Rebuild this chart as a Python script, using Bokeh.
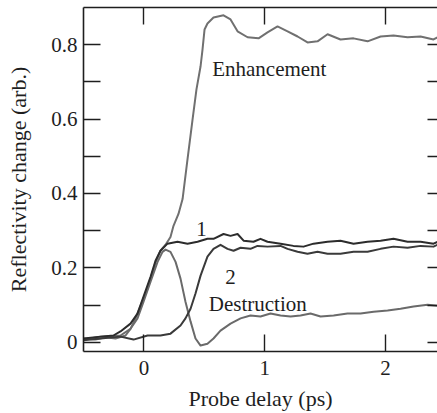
from bokeh.plotting import figure
from bokeh.models import LinearAxis, FixedTicker, Range1d, Label, NumeralTickFormatter
from bokeh.embed import file_html
from bokeh.resources import INLINE

# ---- data ----
enh_x = [-0.50, -0.40, -0.318, -0.235, -0.152, -0.111, -0.070, -0.028, 0.013, 0.055,
         0.096, 0.137, 0.179, 0.220, 0.245, 0.286, 0.320, 0.361, 0.402, 0.435,
         0.469, 0.485, 0.502, 0.526, 0.576, 0.659, 0.717, 0.775, 0.858, 0.949,
         1.023, 1.106, 1.189, 1.272, 1.354, 1.437, 1.520, 1.627, 1.735, 1.851,
         1.959, 2.066, 2.182, 2.290, 2.397, 2.430]
enh_y = [0.010, 0.007, 0.013, 0.010, 0.018, 0.036, 0.064, 0.098, 0.131, 0.171,
         0.214, 0.246, 0.262, 0.283, 0.313, 0.345, 0.385, 0.492, 0.597, 0.680,
         0.742, 0.787, 0.841, 0.857, 0.873, 0.879, 0.868, 0.836, 0.820, 0.817,
         0.833, 0.849, 0.836, 0.822, 0.806, 0.809, 0.828, 0.814, 0.817, 0.809,
         0.822, 0.825, 0.820, 0.822, 0.814, 0.820]

c1_x = [-0.50, -0.359, -0.252, -0.194, -0.111, -0.053, -0.003, 0.055, 0.096, 0.137,
        0.195, 0.278, 0.361, 0.444, 0.526, 0.576, 0.659, 0.717, 0.775, 0.825,
        0.907, 0.965, 1.023, 1.131, 1.238, 1.321, 1.404, 1.520, 1.627, 1.735,
        1.851, 1.959, 2.066, 2.182, 2.290, 2.397, 2.430]
c1_y = [0.010, 0.015, 0.018, 0.029, 0.050, 0.077, 0.123, 0.176, 0.219, 0.246,
        0.265, 0.270, 0.265, 0.270, 0.278, 0.278, 0.291, 0.286, 0.291, 0.273,
        0.270, 0.278, 0.270, 0.265, 0.259, 0.257, 0.265, 0.270, 0.273, 0.265,
        0.270, 0.273, 0.278, 0.270, 0.270, 0.265, 0.270]

c2_x = [-0.50, -0.359, -0.194, -0.086, 0.030, 0.137, 0.220, 0.303, 0.344, 0.386,
        0.427, 0.469, 0.526, 0.576, 0.634, 0.692, 0.742, 0.800, 0.882, 0.940,
        1.023, 1.131, 1.189, 1.272, 1.354, 1.437, 1.520, 1.627, 1.735, 1.851,
        1.959, 2.066, 2.182, 2.290, 2.397, 2.430]
c2_y = [0.005, 0.010, 0.015, 0.007, 0.018, 0.018, 0.023, 0.045, 0.064, 0.090,
        0.131, 0.179, 0.230, 0.251, 0.262, 0.251, 0.246, 0.254, 0.251, 0.259,
        0.257, 0.259, 0.251, 0.243, 0.238, 0.243, 0.238, 0.238, 0.243, 0.243,
        0.251, 0.257, 0.254, 0.259, 0.257, 0.262]

des_x = [-0.50, -0.359, -0.194, -0.111, -0.053, -0.003, 0.055, 0.113, 0.154, 0.179,
         0.220, 0.262, 0.303, 0.344, 0.386, 0.427, 0.469, 0.526, 0.576, 0.634,
         0.717, 0.800, 0.882, 0.965, 1.048, 1.131, 1.214, 1.296, 1.379, 1.462,
         1.570, 1.685, 1.793, 1.901, 2.017, 2.124, 2.232, 2.348, 2.430]
des_y = [0.007, 0.015, 0.018, 0.036, 0.064, 0.109, 0.163, 0.216, 0.243, 0.249,
         0.243, 0.216, 0.171, 0.109, 0.056, 0.010, -0.009, -0.004, 0.010, 0.031,
         0.050, 0.064, 0.072, 0.069, 0.077, 0.072, 0.069, 0.072, 0.077, 0.069,
         0.072, 0.077, 0.077, 0.082, 0.085, 0.090, 0.096, 0.101, 0.098]

x_ticks = [0, 1, 2]
y_ticks = [0, 0.2, 0.4, 0.6, 0.8]
y_minor = [0.1, 0.3, 0.5, 0.7]
y_right = [0, 0.1, 0.2, 0.3, 0.4, 0.5, 0.6, 0.7, 0.8]

label_text = ["Enhancement", "1", "2", "Destruction"]
label_x = [0.565, 0.477, 0.717, 0.537]
label_y = [0.734, 0.305, 0.176, 0.104]
label_align = ["left", "center", "center", "left"]

FONT = "Liberation Serif"
AX_FONT = "'Liberation Serif'"
INK = "#1e1e1e"

p = figure(width=437, height=413, x_range=Range1d(-0.5, 2.43), y_range=Range1d(-0.025, 0.9),
           output_backend="svg", toolbar_location=None,
           min_border_left=83, min_border_right=0, min_border_top=7, min_border_bottom=60,
           x_axis_label="Probe delay (ps)", y_axis_label="Reflectivity change (arb.)")
p.outline_line_color = None
p.grid.visible = False
p.background_fill_color = "white"
p.border_fill_color = "white"

p.line(enh_x, enh_y, line_color="#707070", line_width=2, line_join="round")
p.line(des_x, des_y, line_color="#6a6a6a", line_width=2, line_join="round")
p.line(c2_x, c2_y, line_color="#3a3a3a", line_width=2, line_join="round")
p.line(c1_x, c1_y, line_color="#2c2c2c", line_width=2, line_join="round")

def style(ax, tick_in):
    ax.major_tick_in = tick_in
    ax.major_tick_out = 0
    ax.minor_tick_in = tick_in
    ax.minor_tick_out = 0
    ax.axis_line_color = INK
    ax.axis_line_width = 1.6
    ax.major_tick_line_color = INK
    ax.major_tick_line_width = 1.4
    ax.minor_tick_line_color = INK
    ax.minor_tick_line_width = 1.4
    ax.major_label_text_font = AX_FONT
    ax.major_label_text_font_size = "21px"
    ax.major_label_text_color = INK
    ax.axis_label_text_font = AX_FONT
    ax.axis_label_text_font_size = "22px"
    ax.axis_label_text_font_style = "normal"
    ax.axis_label_text_color = INK

xa = p.xaxis[0]
ya = p.yaxis[0]
xa.ticker = FixedTicker(ticks=x_ticks, minor_ticks=[])
ya.ticker = FixedTicker(ticks=y_ticks, minor_ticks=y_minor)
ya.formatter = NumeralTickFormatter(format="0.[0]")
style(xa, 17)
style(ya, 17)
xa.major_label_standoff = 9
xa.axis_label_standoff = 8
ya.major_label_standoff = 6
ya.axis_label_standoff = 17

top = LinearAxis(ticker=FixedTicker(ticks=x_ticks, minor_ticks=[]))
style(top, 17)
top.major_label_text_font_size = "0px"
top.major_label_text_color = None
top.major_label_standoff = 0
p.add_layout(top, "above")

right = LinearAxis(ticker=FixedTicker(ticks=y_right, minor_ticks=[]))
style(right, 10)
right.axis_line_color = None
right.major_label_text_font_size = "0px"
right.major_label_text_color = None
right.major_label_standoff = 0
p.add_layout(right, "right")

for t, x, y, a in zip(label_text, label_x, label_y, label_align):
    p.add_layout(Label(x=x, y=y, text=t, text_align=a, text_baseline="alphabetic",
                       text_font=FONT, text_font_size="21px", text_color=INK))

open("out.html", "w").write(file_html(p, INLINE))
